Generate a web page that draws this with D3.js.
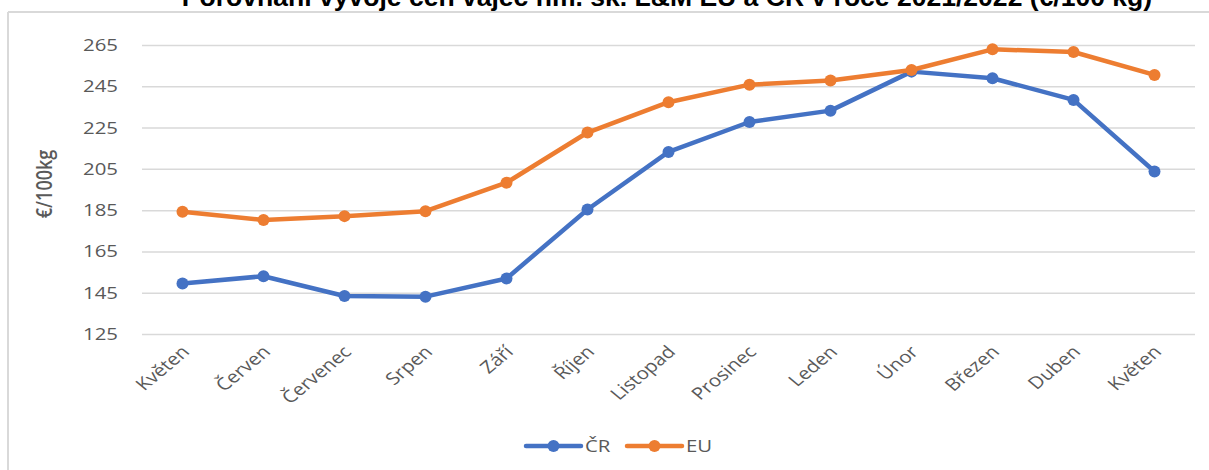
<!DOCTYPE html>
<html>
<head>
<meta charset="utf-8">
<script src="https://cdn.jsdelivr.net/npm/d3@7"></script>
<style>
  body { margin: 0; background: #fff; }
  svg { display: block; }
  .tick text { font-family: "Open Sans", sans-serif; fill: #595959; }
</style>
</head>
<body>
<svg id="chart" width="1209" height="470"></svg>
<script>
const months = ["Květen", "Červen", "Červenec", "Srpen", "Září", "Říjen", "Listopad",
    "Prosinec", "Leden", "Únor", "Březen", "Duben", "Květen"];
const crValues = [149.5, 153.0, 143.4, 143.1, 151.9, 185.3, 213.2, 227.7, 233.2, 252.1, 248.9, 238.4, 203.7];
const euValues = [184.2, 180.2, 182.1, 184.5, 198.3, 222.6, 237.3, 245.8, 247.8, 252.9, 262.9, 261.6, 250.5];
const yTicks = [125, 145, 165, 185, 205, 225, 245, 265];
const seriesNames = ["ČR", "EU"];
const colors = ["#4472C4", "#ED7D31"];
const titleText = "Porovnání vývoje cen vajec hm. sk. L&M EU a ČR v roce 2021/2022 (€/100 kg)";

const svg = d3.select("#chart");
const plotLeft = 142, plotRight = 1195, plotTop = 45, plotBottom = 334;
const stretch = 1.2; // the original picture is a bit wider than tall

// frame of the chart area
svg.append("line").attr("x1", 8).attr("x2", 1209).attr("y1", 12).attr("y2", 12)
    .attr("stroke", "#D9D9D9").attr("stroke-width", 2);
svg.append("line").attr("x1", 8).attr("x2", 8).attr("y1", 12).attr("y2", 470)
    .attr("stroke", "#D9D9D9").attr("stroke-width", 2);

// title (cut off at the top like the original)
const title = svg.append("text")
    .attr("x", 667).attr("y", 6)
    .attr("text-anchor", "middle")
    .attr("font-family", "'Liberation Sans', Arial, sans-serif")
    .attr("font-weight", "bold")
    .attr("font-size", 20)
    .attr("fill", "#000")
    .text(titleText);
const tw = title.node().getComputedTextLength();
title.attr("font-size", 20 * 971 / tw);

const x = d3.scaleBand().domain(d3.range(months.length)).range([plotLeft, plotRight]);
const y = d3.scaleLinear().domain([125, 265]).range([plotBottom, plotTop]);

// gridlines
svg.append("g")
    .attr("transform", `translate(${plotLeft},0)`)
    .call(d3.axisLeft(y).tickValues(yTicks).tickSize(-(plotRight - plotLeft)).tickFormat(""))
    .call(g => g.select(".domain").remove())
    .call(g => g.selectAll(".tick line").attr("stroke", "#D9D9D9").attr("stroke-width", 1.5));

// y labels
svg.append("g")
    .attr("transform", `translate(118,0)`)
    .call(d3.axisLeft(y).tickValues(yTicks).tickSize(0).tickPadding(0))
    .call(g => g.select(".domain").remove())
    .call(g => g.selectAll(".tick text")
        .attr("font-size", 17)
        .attr("transform", `scale(${stretch},1)`));

// x labels
svg.append("g")
    .attr("transform", `translate(0,${plotBottom})`)
    .call(d3.axisBottom(x).tickFormat(i => months[i]).tickSize(0).tickPadding(0))
    .call(g => g.select(".domain").remove())
    .call(g => g.selectAll(".tick text")
        .attr("font-size", 17)
        .attr("text-anchor", "end")
        .attr("dy", 0)
        .attr("transform", `translate(8,19) scale(${stretch},1) rotate(-45)`));

// y axis title
svg.append("text")
    .attr("transform", `translate(52,184) scale(${stretch},1) rotate(-90)`)
    .attr("text-anchor", "middle")
    .attr("font-family", "'Open Sans', sans-serif")
    .attr("font-size", 18)
    .attr("font-weight", 600)
    .attr("fill", "#595959")
    .text("€/100kg");

const xc = i => x(i) + x.bandwidth() / 2;
const line = d3.line().x((d, i) => xc(i)).y(d => y(d));

[crValues, euValues].forEach((vals, s) => {
    svg.append("path")
        .datum(vals)
        .attr("fill", "none")
        .attr("stroke", colors[s])
        .attr("stroke-width", 4.5)
        .attr("stroke-linejoin", "round")
        .attr("stroke-linecap", "round")
        .attr("d", line);
    svg.append("g").selectAll("circle")
        .data(vals)
        .enter()
        .append("circle")
        .attr("cx", (d, i) => xc(i))
        .attr("cy", d => y(d))
        .attr("r", 6)
        .attr("fill", colors[s]);
});

// legend
const legend = svg.append("g").attr("transform", "translate(526,446)");
const legendX = [0, 101];
seriesNames.forEach((name, s) => {
    const g = legend.append("g").attr("transform", `translate(${legendX[s]},0)`);
    g.append("line").attr("x1", 0).attr("x2", 55).attr("y1", 0).attr("y2", 0)
        .attr("stroke", colors[s]).attr("stroke-width", 4.5).attr("stroke-linecap", "round");
    g.append("circle").attr("cx", 27.5).attr("cy", 0).attr("r", 6).attr("fill", colors[s]);
    g.append("text")
        .attr("transform", `translate(59,6) scale(${stretch},1)`)
        .attr("font-family", "'Open Sans', sans-serif")
        .attr("font-size", 17)
        .attr("fill", "#595959")
        .text(name);
});
</script>
</body>
</html>
